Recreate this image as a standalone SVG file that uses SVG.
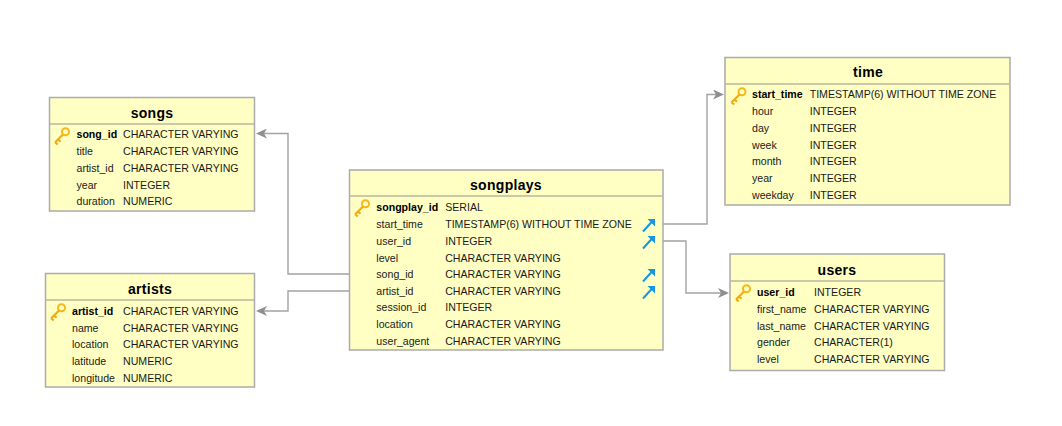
<svg xmlns="http://www.w3.org/2000/svg" width="1062" height="426" viewBox="0 0 1062 426">
<style>
text{font-family:"Liberation Sans",Arial,sans-serif;font-size:10.6px;fill:#1a1a1a}
.t{font-size:14px;font-weight:bold;text-anchor:middle;fill:#000;letter-spacing:.3px}
.b{font-weight:bold;fill:#000}
.box{fill:#ffffc4;stroke:#ababab;stroke-width:1.5}
.div{stroke:#b8b8a0;stroke-width:1.5;fill:none}
.c{fill:none;stroke:#a3a3a3;stroke-width:1.4}
</style>
<defs>
<marker id="ah" markerWidth="12" markerHeight="10" refX="3" refY="5" orient="auto" markerUnits="userSpaceOnUse"><path d="M0 0L11 5L0 10L3 5Z" fill="#8f8f8f"/></marker>
<g id="key"><circle cx="12.500" cy="4.800" r="3.500" fill="none" stroke="#f5b81c" stroke-width="2"/><path d="M10 7.500L2 15.500M2.200 15.300L4.700 17.500M5 12.500L7.500 14.800" fill="none" stroke="#f0ac10" stroke-width="2.200"/></g>
<g id="fk"><path d="M1 15L11 4" fill="none" stroke="#1597e0" stroke-width="2"/><path d="M5.500 2.500H13V10Z" fill="#1597e0"/></g>
</defs>
<g id="connectors">
<path class="c" d="M349 274H288V133.500H264" marker-end="url(#ah)"/>
<path class="c" d="M349 291H288V311H264" marker-end="url(#ah)"/>
<path class="c" d="M663 224H707V94.500H716" marker-end="url(#ah)"/>
<path class="c" d="M663 241H686V293H721" marker-end="url(#ah)"/>
</g>
<g id="songs">
<rect class="box" x="49.500" y="97.500" width="205" height="113.500"/><path class="div" d="M50 124H254"/>
<text class="t" x="152" y="118">songs</text>
<use href="#key" x="53" y="127"/>
<text class="b" x="76.500" y="138">song_id</text><text x="123" y="138">CHARACTER VARYING</text>
<text x="76.500" y="155">title</text><text x="123" y="155">CHARACTER VARYING</text>
<text x="76.500" y="172">artist_id</text><text x="123" y="172">CHARACTER VARYING</text>
<text x="76.500" y="188.500">year</text><text x="123" y="188.500">INTEGER</text>
<text x="76.500" y="205">duration</text><text x="123" y="205">NUMERIC</text>
</g>
<g id="artists">
<rect class="box" x="45.500" y="273.500" width="209" height="113.500"/><path class="div" d="M46 300H254"/>
<text class="t" x="150" y="294">artists</text>
<use href="#key" x="49" y="303"/>
<text class="b" x="72" y="315">artist_id</text><text x="123" y="315">CHARACTER VARYING</text>
<text x="72" y="331.500">name</text><text x="123" y="331.500">CHARACTER VARYING</text>
<text x="72" y="348">location</text><text x="123" y="348">CHARACTER VARYING</text>
<text x="72" y="365">latitude</text><text x="123" y="365">NUMERIC</text>
<text x="72" y="382">longitude</text><text x="123" y="382">NUMERIC</text>
</g>
<g id="songplays">
<rect class="box" x="349.500" y="170" width="313.500" height="180"/><path class="div" d="M350 196H662"/>
<text class="t" x="506" y="190">songplays</text>
<use href="#key" x="353" y="199"/>
<text class="b" x="376.300" y="211">songplay_id</text><text x="445.200" y="211">SERIAL</text>
<text x="376.300" y="228">start_time</text><text x="445.200" y="228">TIMESTAMP(6) WITHOUT TIME ZONE</text>
<text x="376.300" y="245">user_id</text><text x="445.200" y="245">INTEGER</text>
<text x="376.300" y="261.500">level</text><text x="445.200" y="261.500">CHARACTER VARYING</text>
<text x="376.300" y="278">song_id</text><text x="445.200" y="278">CHARACTER VARYING</text>
<text x="376.300" y="294.500">artist_id</text><text x="445.200" y="294.500">CHARACTER VARYING</text>
<text x="376.300" y="311">session_id</text><text x="445.200" y="311">INTEGER</text>
<text x="376.300" y="328">location</text><text x="445.200" y="328">CHARACTER VARYING</text>
<text x="376.300" y="345">user_agent</text><text x="445.200" y="345">CHARACTER VARYING</text>
<use href="#fk" x="642" y="216.500"/><use href="#fk" x="642" y="233.500"/><use href="#fk" x="642" y="266.500"/><use href="#fk" x="642" y="283.500"/>
</g>
<g id="time">
<rect class="box" x="725" y="57.500" width="285" height="147.500"/><path class="div" d="M725.500 84H1009.500"/>
<text class="t" x="868" y="77">time</text>
<use href="#key" x="729.500" y="87"/>
<text class="b" x="752" y="98">start_time</text><text x="809.700" y="98">TIMESTAMP(6) WITHOUT TIME ZONE</text>
<text x="752" y="115">hour</text><text x="809.700" y="115">INTEGER</text>
<text x="752" y="132">day</text><text x="809.700" y="132">INTEGER</text>
<text x="752" y="148.500">week</text><text x="809.700" y="148.500">INTEGER</text>
<text x="752" y="165">month</text><text x="809.700" y="165">INTEGER</text>
<text x="752" y="182">year</text><text x="809.700" y="182">INTEGER</text>
<text x="752" y="199">weekday</text><text x="809.700" y="199">INTEGER</text>
</g>
<g id="users">
<rect class="box" x="730" y="254" width="214.500" height="116.500"/><path class="div" d="M730.500 281H944"/>
<text class="t" x="837" y="274.500">users</text>
<use href="#key" x="734" y="284"/>
<text class="b" x="757" y="296">user_id</text><text x="814" y="296">INTEGER</text>
<text x="757" y="312.500">first_name</text><text x="814" y="312.500">CHARACTER VARYING</text>
<text x="757" y="329.500">last_name</text><text x="814" y="329.500">CHARACTER VARYING</text>
<text x="757" y="346">gender</text><text x="814" y="346">CHARACTER(1)</text>
<text x="757" y="363">level</text><text x="814" y="363">CHARACTER VARYING</text>
</g>
</svg>
